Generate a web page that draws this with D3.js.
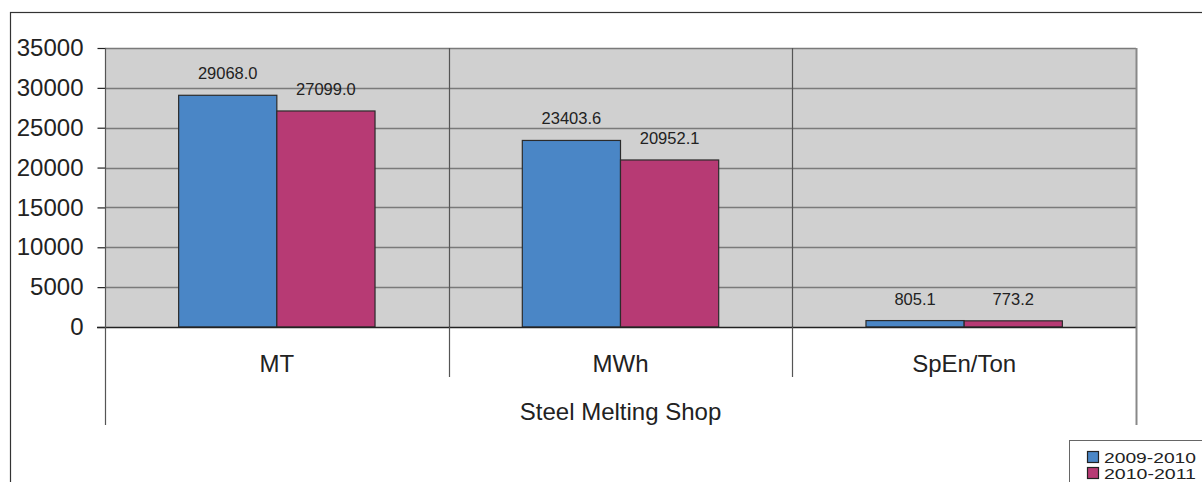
<!DOCTYPE html>
<html>
<head>
<meta charset="utf-8">
<script src="https://cdn.jsdelivr.net/npm/d3@7"></script>
<style>
  html, body { margin: 0; padding: 0; background: #fff; }
  svg { display: block; font-family: "Liberation Sans", Arial, sans-serif; }
</style>
</head>
<body>
<svg id="chart" width="1202" height="482"></svg>
<script>
// Energy figures for the Steel Melting Shop, two fiscal years
const categories = ["MT", "MWh", "SpEn/Ton"];
const groupLabel = "Steel Melting Shop";
const seriesNames = ["2009-2010", "2010-2011"];
const values2009 = [29068.0, 23403.6, 805.1];
const values2010 = [27099.0, 20952.1, 773.2];
const yTicks = [0, 5000, 10000, 15000, 20000, 25000, 30000, 35000];
const colors = ["#4a86c6", "#b73a74"];

const series = [values2009, values2010];

const svg = d3.select("#chart");
const plot = { left: 105, right: 1136, top: 48, bottom: 327 };

// outer frame
svg.append("rect")
  .attr("x", 10.5).attr("y", 12.5)
  .attr("width", 1300).attr("height", 600)
  .attr("fill", "none").attr("stroke", "#333").attr("stroke-width", 1.2);

const x = d3.scaleBand().domain(categories).range([plot.left, plot.right]).paddingInner(0).paddingOuter(0);
const xInner = d3.scaleBand().domain(d3.range(series.length)).range([0, x.bandwidth()]).paddingInner(0).paddingOuter(0.75);
const y = d3.scaleLinear().domain([0, 35000]).range([plot.bottom, plot.top]);

// plot background
svg.append("rect")
  .attr("x", plot.left).attr("y", plot.top)
  .attr("width", plot.right - plot.left).attr("height", plot.bottom - plot.top)
  .attr("fill", "#d0d0d0");

// horizontal gridlines
svg.append("g").selectAll("line").data(yTicks.filter(d => d > 0)).join("line")
  .attr("x1", plot.left).attr("x2", plot.right)
  .attr("y1", d => Math.round(y(d)) + 0.5).attr("y2", d => Math.round(y(d)) + 0.5)
  .attr("stroke", "#7a7a7a").attr("stroke-width", 1.5);

// vertical category separators inside plot
svg.append("g").selectAll("line").data(categories.slice(1)).join("line")
  .attr("x1", d => Math.round(x(d)) + 0.5).attr("x2", d => Math.round(x(d)) + 0.5)
  .attr("y1", plot.top).attr("y2", plot.bottom)
  .attr("stroke", "#555").attr("stroke-width", 1.2);

// right plot edge
svg.append("line")
  .attr("x1", plot.right + 0.5).attr("x2", plot.right + 0.5)
  .attr("y1", plot.top).attr("y2", plot.bottom)
  .attr("stroke", "#888").attr("stroke-width", 2);

// bars
const groups = svg.append("g").selectAll("g").data(categories).join("g")
  .attr("transform", d => `translate(${x(d)},0)`);

groups.selectAll("rect").data((d, i) => series.map((s, k) => ({ k, v: s[i] }))).join("rect")
  .attr("x", d => xInner(d.k))
  .attr("y", d => y(d.v))
  .attr("width", xInner.bandwidth())
  .attr("height", d => y(0) - y(d.v))
  .attr("fill", d => colors[d.k])
  .attr("stroke", "#2b2b2b").attr("stroke-width", 1.2);

groups.selectAll("text").data((d, i) => series.map((s, k) => ({ k, v: s[i] }))).join("text")
  .attr("x", d => xInner(d.k) + xInner.bandwidth() / 2)
  .attr("y", d => y(d.v) - 16)
  .attr("text-anchor", "middle")
  .attr("font-size", 16.5)
  .attr("fill", "#222")
  .text(d => d.v.toFixed(1));

// y axis
const yAxis = d3.axisLeft(y).tickValues(yTicks).tickSize(8).tickPadding(14).tickFormat(d3.format("d"));
const ya = svg.append("g").attr("transform", `translate(${plot.left + 0.5},0)`).call(yAxis);
ya.select(".domain").remove();
ya.selectAll(".tick line").attr("stroke", "#222").attr("stroke-width", 1.2);
ya.selectAll(".tick text").attr("font-size", 24).attr("fill", "#222")
  .attr("font-family", "Liberation Sans, Arial, sans-serif");

// zero line
svg.append("line")
  .attr("x1", plot.left - 8).attr("x2", plot.right)
  .attr("y1", y(0) + 0.5).attr("y2", y(0) + 0.5)
  .attr("stroke", "#222").attr("stroke-width", 1.5);

// left axis line, extending into the category label area
svg.append("line")
  .attr("x1", plot.left + 0.5).attr("x2", plot.left + 0.5)
  .attr("y1", plot.top).attr("y2", 425)
  .attr("stroke", "#555").attr("stroke-width", 1.2);
svg.append("line")
  .attr("x1", plot.right + 0.5).attr("x2", plot.right + 0.5)
  .attr("y1", plot.bottom).attr("y2", 425)
  .attr("stroke", "#888").attr("stroke-width", 2);

// separators between category labels
svg.append("g").selectAll("line").data(categories.slice(1)).join("line")
  .attr("x1", d => Math.round(x(d)) + 0.5).attr("x2", d => Math.round(x(d)) + 0.5)
  .attr("y1", plot.bottom).attr("y2", 377)
  .attr("stroke", "#555").attr("stroke-width", 1.2);

// category labels
svg.append("g").selectAll("text").data(categories).join("text")
  .attr("x", d => x(d) + x.bandwidth() / 2)
  .attr("y", 372)
  .attr("text-anchor", "middle")
  .attr("font-size", 24).attr("fill", "#222")
  .text(d => d);

svg.append("text")
  .attr("x", (plot.left + plot.right) / 2).attr("y", 420)
  .attr("text-anchor", "middle")
  .attr("font-size", 24).attr("fill", "#222")
  .text(groupLabel);

// legend
const legend = svg.append("g");
legend.append("rect")
  .attr("x", 1069.5).attr("y", 440.5).attr("width", 200).attr("height", 80)
  .attr("fill", "#fff").attr("stroke", "#666").attr("stroke-width", 1);
const items = legend.selectAll("g").data(seriesNames).join("g")
  .attr("transform", (d, i) => `translate(1087,${451 + i * 16})`);
items.append("rect")
  .attr("x", 0.5).attr("y", 0.5).attr("width", 11).attr("height", 11)
  .attr("fill", (d, i) => colors[i]).attr("stroke", "#222").attr("stroke-width", 1.2);
items.append("text")
  .attr("x", 17).attr("y", 11.5)
  .attr("font-size", 15.5).attr("fill", "#222")
  .attr("textLength", 92).attr("lengthAdjust", "spacingAndGlyphs")
  .text(d => d);
</script>
</body>
</html>
